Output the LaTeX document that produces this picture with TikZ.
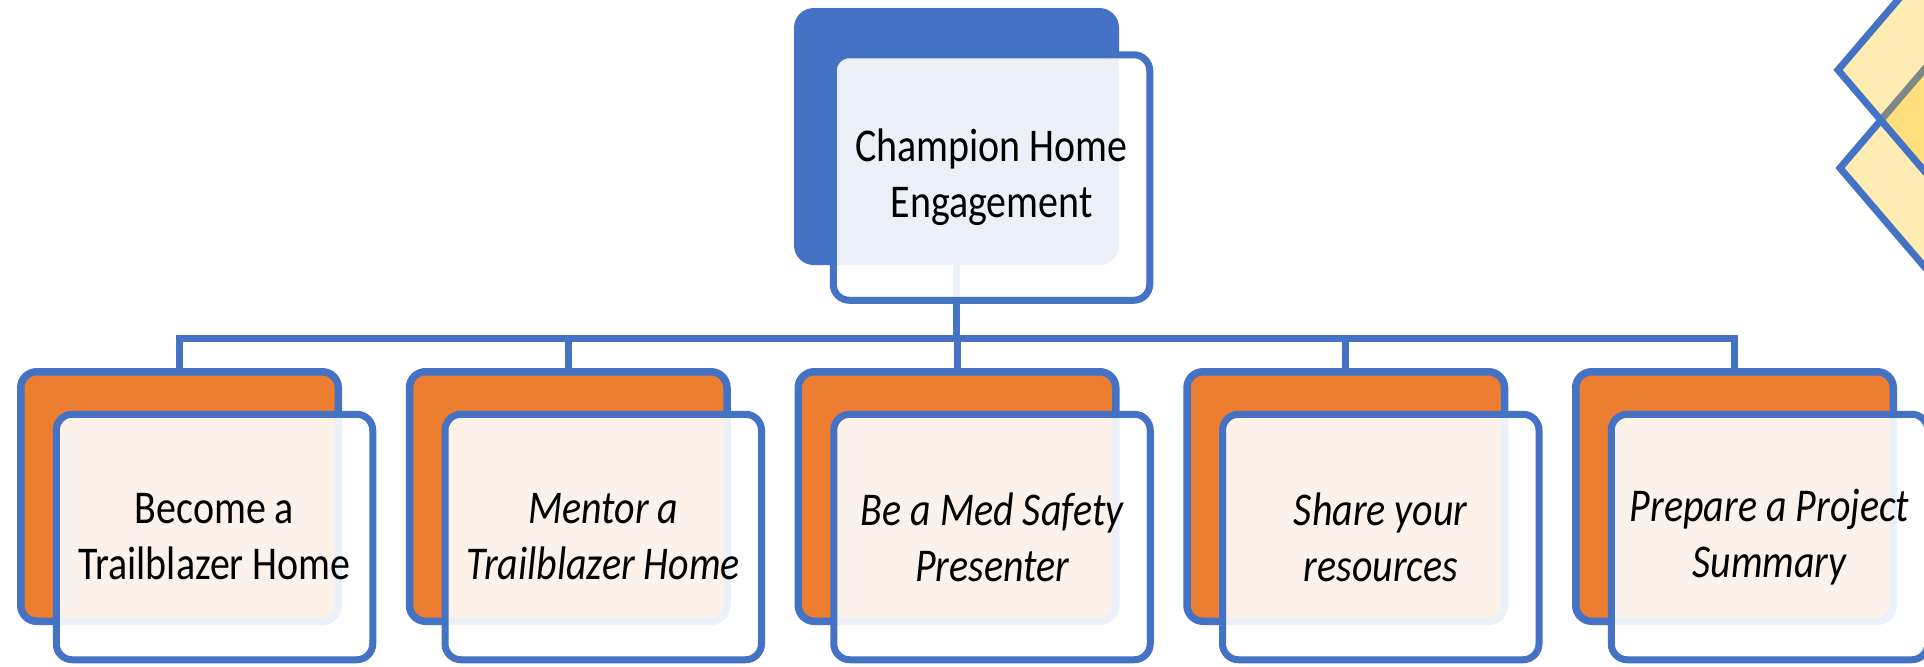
\documentclass[tikz,border=0pt]{standalone}
\usepackage{fontspec}
\setmainfont{Carlito}[FakeStretch=0.85]
\usetikzlibrary{calc}
\definecolor{cblue}{HTML}{4472C4}
\definecolor{corange}{HTML}{ED7D31}
\definecolor{cgold}{HTML}{FFC000}
\tikzset{
  backbox/.style={rectangle, rounded corners=8pt, draw=cblue, line width=3.75pt,
    minimum width=158.75pt, minimum height=124.75pt, inner sep=0pt, outer sep=0pt},
  frontbox/.style={rectangle, rounded corners=8pt, draw=cblue, line width=3.5pt,
    fill=white, fill opacity=0.9, text opacity=1,
    minimum width=158.25pt, minimum height=122.75pt, inner sep=0pt, outer sep=0pt,
    align=center, font=\fontsize{23.5}{28}\selectfont},
  conn/.style={draw=cblue, line width=3.5pt},
  gem/.style={draw=cblue, line width=3.5pt, fill=cgold, fill opacity=0.3, line join=miter}
}
\begin{document}
\begin{tikzpicture}[x=0.5pt, y=-0.5pt]
\useasboundingbox (0,0) rectangle (1924,666);
% decorative diamonds
\path[gem] (1840,168) -- ++(100,-117) -- ++(100,117) -- ++(-100,117) -- cycle;
\path[gem] (1838,70) -- ++(100,-117) -- ++(100,117) -- ++(-100,117) -- cycle;
% back boxes
\node[backbox, fill=cblue] (topback) at (956.5,136.5) {};
\foreach \i/\x in {1/179.5, 2/568.25, 3/957, 4/1345.75, 5/1734.5}{
  \node[backbox, fill=corange] (b\i) at (\x,496.5) {};
}
% connectors
\coordinate (bus) at (0,338);
\draw[conn] (topback.south) -- (topback.south |- bus);
\foreach \i in {1,...,5}{
  \draw[conn] (topback.south |- bus) -| (b\i.north);
}
% front boxes
\node[frontbox] (topfront) at ($(topback)+(35,41)$) {Champion Home\\Engagement};
\node[frontbox] (f1) at ($(b1)+(35,40.5)$) {Become a\\Trailblazer Home};
\node[frontbox, font=\fontsize{23.5}{28}\selectfont\itshape] (f2) at ($(b2)+(35,40.5)$) {Mentor a\\Trailblazer Home};
\node[frontbox, font=\fontsize{23.5}{28}\selectfont\itshape] (f3) at ($(b3)+(35,40.5)$) {Be a Med Safety\\Presenter};
\node[frontbox, font=\fontsize{23.5}{28}\selectfont\itshape] (f4) at ($(b4)+(35,40.5)$) {Share your\\resources};
\node[frontbox, font=\fontsize{23.5}{28}\selectfont\itshape] (f5) at ($(b5)+(35,40.5)$) {Prepare a Project\\Summary};
\end{tikzpicture}
\end{document}
